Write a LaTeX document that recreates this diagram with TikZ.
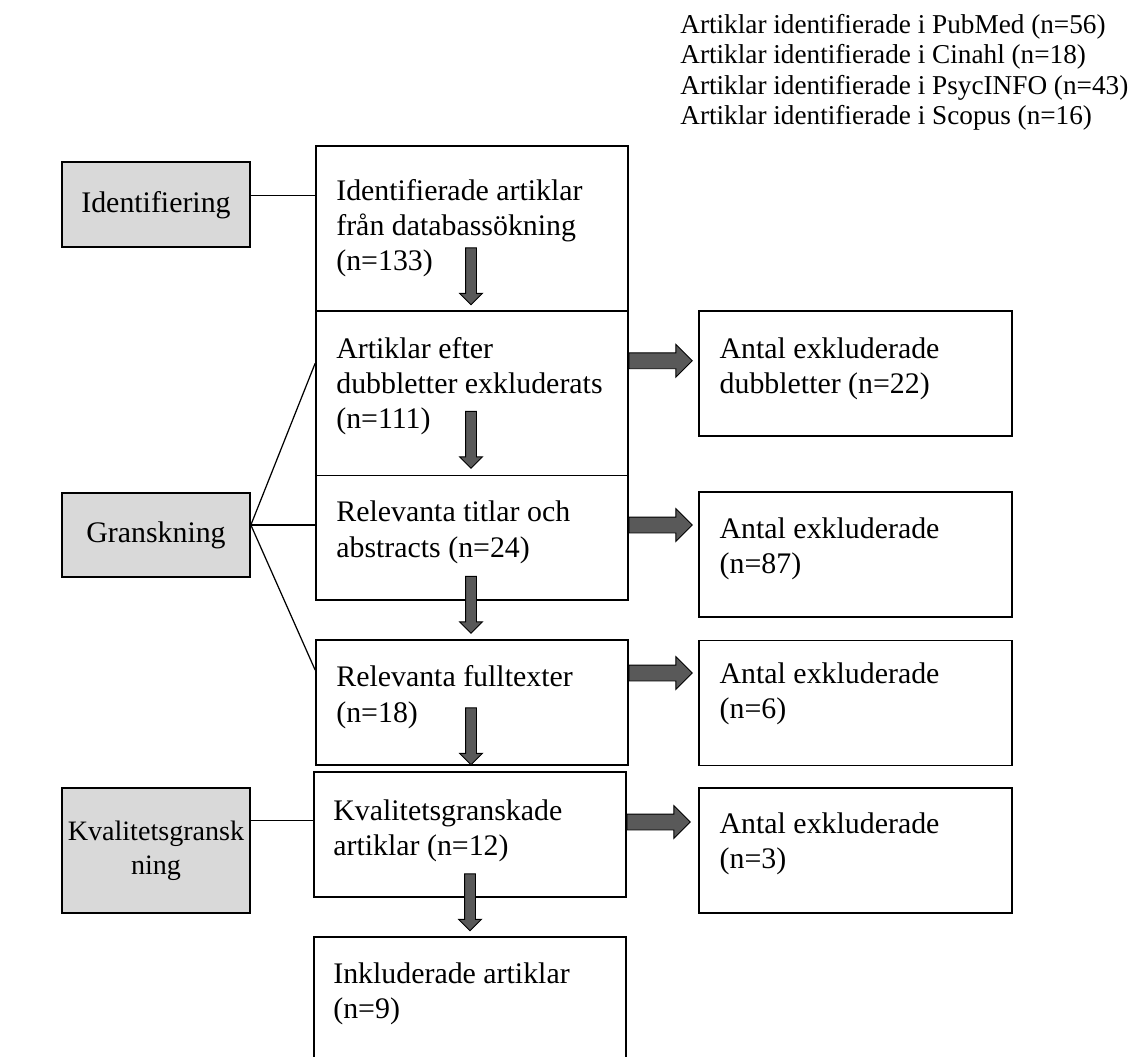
\documentclass[tikz,border=0pt]{standalone}
\usepackage{fontspec}
\setmainfont{Liberation Serif}
\usetikzlibrary{shapes.arrows}

\definecolor{boxgray}{HTML}{D9D9D9}
\definecolor{arrowgray}{HTML}{595959}

\tikzstyle{bS}=[draw,line width=1pt,minimum width=6.24cm,inner sep=0pt]
\tikzstyle{lS}=[draw,line width=1pt,fill=boxgray,minimum width=3.76cm,inner xsep=0pt,align=center,font=\fontsize{17}{20}\selectfont]
\tikzstyle{tS}=[anchor=base west,inner sep=0pt,align=left,font=\fontsize{17}{20}\selectfont]
\tikzstyle{sS}=[anchor=base west,inner sep=0pt,align=left,font=\fontsize{15.5}{17.4}\selectfont]
\tikzstyle{cS}=[line width=0.7pt]
\tikzstyle{dA}=[single arrow,draw,fill=arrowgray,line width=0.5pt,inner sep=0.1cm,minimum width=0.44cm,single arrow head extend=0.12cm,minimum height=1.14cm,rotate=-90,anchor=tail]
\tikzstyle{rA}=[single arrow,draw,fill=arrowgray,line width=0.5pt,inner sep=0.15cm,minimum width=0.64cm,single arrow head extend=0.17cm,minimum height=1.26cm,anchor=tail]

\begin{document}
\begin{tikzpicture}[x=0.02cm,y=-0.02cm]
                \useasboundingbox (0,0) rectangle (1135,1057);
                \clip (0,0) rectangle (1135,1057);
                % databaser (base = sista raden)
                \draw (680,125) node[sS] (src) {Artiklar identifierade i PubMed (n=56)\\Artiklar identifierade i Cinahl (n=18)\\Artiklar identifierade i PsycINFO (n=43)\\Artiklar identifierade i Scopus (n=16)};
                % faser
                \draw (156,204.8) node[lS,minimum height=1.7cm] (g1) {Identifiering};
                \draw (156,535) node[lS,minimum height=1.69cm] (g2) {Granskning};
                \draw (156,850.8) node[lS,minimum height=2.5cm,font=\fontsize{16}{19.5}\selectfont] (g3) {Kvalitetsgransk\\ning};
                % flode
                \draw (472,228.5) node[bS,minimum height=3.3cm] (b1) {};
                \draw (472,393.3) node[bS,minimum height=3.29cm] (b2) {};
                \draw (472,537.8) node[bS,minimum height=2.49cm] (b3) {};
                \draw (472,702.5) node[bS,minimum height=2.5cm] (b4) {};
                \draw (470,834.5) node[bS,minimum height=2.5cm] (b5) {};
                \draw (470,1017) node[bS,minimum height=3.2cm] (b6) {};
                \draw (336,270.6) node[tS] (t1) {Identifierade artiklar\\från databassökning\\(n=133)};
                \draw (336,428.6) node[tS] (t2) {Artiklar efter\\dubbletter exkluderats\\(n=111)};
                \draw (336,557) node[tS] (t3) {Relevanta titlar och\\abstracts (n=24)};
                \draw (336,722) node[tS] (t4) {Relevanta fulltexter\\(n=18)};
                \draw (333,855.3) node[tS] (t5) {Kvalitetsgranskade\\artiklar (n=12)};
                \draw (333,1018.3) node[tS] (t6) {Inkluderade artiklar\\(n=9)};
                % exkluderade
                \draw (855.5,373.2) node[bS,minimum width=6.26cm,minimum height=2.5cm] (x1) {};
                \draw (855.5,554.5) node[bS,minimum width=6.26cm,minimum height=2.5cm] (x2) {};
                \draw (855.5,702.9) node[bS,minimum width=6.26cm,minimum height=2.5cm] (x3) {};
                \draw (855.5,850.5) node[bS,minimum width=6.26cm,minimum height=2.5cm] (x4) {};
                \draw (719.3,393.6) node[tS] (u1) {Antal exkluderade\\dubbletter (n=22)};
                \draw (719.3,573.3) node[tS] (u2) {Antal exkluderade\\(n=87)};
                \draw (719.3,718.3) node[tS] (u3) {Antal exkluderade\\(n=6)};
                \draw (719.3,868.3) node[tS] (u4) {Antal exkluderade\\(n=3)};
                % linjer
                \path (g1.east) ++(0,-9) coordinate (c1);
                \path (g2.east) ++(0,-10) coordinate (c2);
                \path (g3.east) ++(0,-30) coordinate (c3);
                \draw[cS] (c1) -- (c1 -| b1.west);
                \draw[cS] (c2) -- ([yshift=0.6cm]b2.west);
                \draw[cS] (c2) -- (c2 -| b3.west);
                \draw[cS] (c2) -- ([yshift=0.65cm]b4.west);
                \draw[cS] (c3) -- (c3 -| b5.west);
                % pilar
                \draw ([xshift=-0.02cm,yshift=1.29cm]b1.south) node[dA] (d1) {};
                \draw ([xshift=-0.02cm,yshift=1.31cm]b2.south) node[dA] (d2) {};
                \draw ([xshift=-0.02cm,yshift=0.5cm]b3.south) node[dA] (d3) {};
                \draw ([xshift=-0.02cm,yshift=1.17cm]b4.south) node[dA] (d4) {};
                \draw ([yshift=0.49cm]b5.south) node[dA] (d5) {};
                \draw ([yshift=0.65cm]b2.east) node[rA] (e1) {};
                \draw ([yshift=0.256cm]b3.east) node[rA] (e2) {};
                \draw ([yshift=0.59cm]b4.east) node[rA] (e3) {};
                \draw ([yshift=0.25cm]b5.east) node[rA] (e4) {};
        \end{tikzpicture}
\end{document}
